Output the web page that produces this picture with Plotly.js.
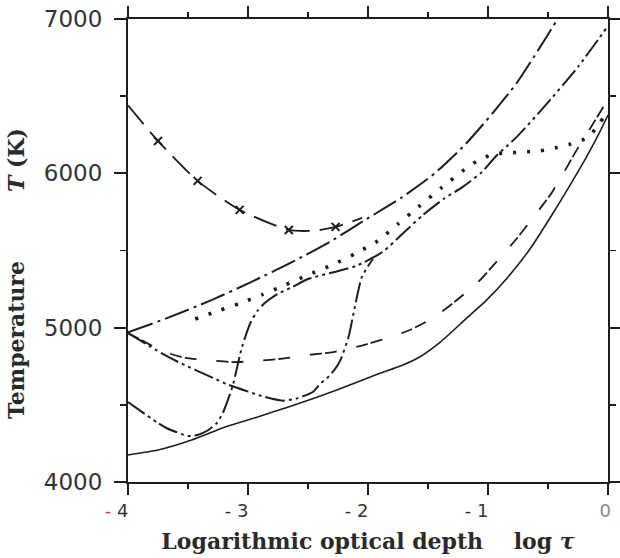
<!DOCTYPE html>
<html>
<head>
<meta charset="utf-8">
<script src="https://cdn.plot.ly/plotly-3.0.1.min.js"></script>
<style>html,body{margin:0;padding:0;background:#fff}#chart{width:620px;height:558px}</style>
</head>
<body>
<div id="chart"></div>
<script>
// Solid curve
var solidX = [-4, -3.75, -3.47, -3.19, -2.92, -2.69, -2.54, -2.26, -1.98, -1.71, -1.57, -1.4, -1.18, -1.01, -0.84, -0.65, -0.46, -0.3, -0.18, -0.07, 0];
var solidT = [4175, 4207, 4272, 4356, 4421, 4480, 4518, 4596, 4681, 4758, 4810, 4905, 5060, 5180, 5322, 5510, 5740, 5945, 6105, 6265, 6378];
// Dashed curve
var dashX = [-4, -3.69, -3.52, -3.34, -3.13, -2.93, -2.71, -2.5, -2.29, -2.07, -1.84, -1.65, -1.46, -1.28, -1.09, -0.93, -0.76, -0.62, -0.47, -0.37, -0.26, -0.13, -0.04, 0];
var dashT = [4965, 4842, 4804, 4790, 4777, 4784, 4800, 4823, 4842, 4880, 4933, 4985, 5063, 5166, 5290, 5426, 5578, 5717, 5873, 6003, 6152, 6314, 6430, 6489];
// Upper dash-dot curve
var dashDotX = [-4, -3.67, -3.3, -2.97, -2.63, -2.32, -2.01, -1.72, -1.44, -1.19, -0.96, -0.76, -0.57, -0.42];
var dashDotT = [4970, 5063, 5180, 5297, 5426, 5555, 5705, 5843, 6003, 6187, 6391, 6586, 6813, 7000];
// Dotted curve
var dotX = [-3.44, -3.25, -3.06, -2.88, -2.69, -2.5, -2.3, -2.11, -1.92, -1.75, -1.58, -1.39, -1.19, -1.09, -0.95, -0.83, -0.7, -0.57, -0.44, -0.31, -0.16, -0.07, 0];
var dotT = [5056, 5108, 5160, 5214, 5277, 5342, 5406, 5478, 5562, 5672, 5782, 5905, 6028, 6080, 6126, 6132, 6139, 6145, 6165, 6190, 6236, 6327, 6400];
// Dash-dot-dot curve starting low at log tau = -4
var lowX = [-4, -3.75, -3.68, -3.5, -3.42, -3.33, -3.26, -3.21, -3.13, -3.05, -2.98, -2.92, -2.86, -2.75, -2.63, -2.5, -2.3, -2.1, -1.88, -1.71, -1.55, -1.37, -1.21, -1.05, -0.94, -0.76, -0.54, -0.25, 0];
var lowT = [4518, 4382, 4350, 4298, 4305, 4337, 4382, 4447, 4616, 4875, 5030, 5110, 5160, 5220, 5264, 5315, 5357, 5400, 5490, 5610, 5725, 5834, 5912, 6009, 6106, 6236, 6424, 6690, 6955];
// Dash-dot-dot curve descending from the V at log tau = -4
var vX = [-4, -3.71, -3.58, -3.29, -3.17, -2.86, -2.71, -2.6, -2.46, -2.4, -2.34, -2.28, -2.23, -2.16, -2.11, -2.05, -1.96];
var vT = [4965, 4830, 4777, 4674, 4632, 4551, 4527, 4540, 4583, 4635, 4674, 4726, 4790, 4946, 5134, 5330, 5445];
// Long-dashed curve with crosses
var crossX = [-4, -3.75, -3.42, -3.07, -2.66, -2.45, -2.27, -2.05];
var crossT = [6440, 6210, 5951, 5763, 5633, 5628, 5653, 5711];
var crossMarkX = [-3.75, -3.42, -3.07, -2.66, -2.27];
var crossMarkT = [6210, 5951, 5763, 5633, 5653];

var xTickVals = [-4, -3, -2, -1, 0];
var xTickText = ['<span style="color:#d0306a">-</span> 4&nbsp;&nbsp;&nbsp;&nbsp;', '- 3&nbsp;&nbsp;&nbsp;&nbsp;', '- 2&nbsp;&nbsp;&nbsp;&nbsp;', '- 1&nbsp;&nbsp;&nbsp;&nbsp;', '<span style="color:#888">0</span>&nbsp;'];
var yTickVals = [4000, 5000, 6000, 7000];

var ink = '#1e1e1e';
function ln(x, y, dash, w) {
  return {x: x, y: y, type: 'scatter', mode: 'lines', hoverinfo: 'skip', showlegend: false,
    line: {color: ink, width: w || 1.8, dash: dash, shape: 'spline', smoothing: 0.6}};
}
var traces = [
  ln(solidX, solidT, 'solid', 1.6),
  ln(dashX, dashT, '12px,3px,12px,20px', 1.8),
  ln(dashDotX, dashDotT, '26px,5px,3px,5px', 2),
  ln(dotX, dotT, '3px,11px', 3.6),
  ln(lowX, lowT, '20px,4px,3px,4px,3px,4px', 2),
  ln(vX, vT, '20px,4px,3px,4px,3px,4px', 2),
  ln(crossX, crossT, '24px,10px', 1.8),
  {x: crossMarkX, y: crossMarkT, type: 'scatter', mode: 'markers', hoverinfo: 'skip', showlegend: false,
   marker: {symbol: 'x-thin', size: 8, line: {color: ink, width: 2}}}
];

var layout = {
  width: 620, height: 558,
  margin: {l: 128, r: 12, t: 19, b: 76},
  paper_bgcolor: '#fff', plot_bgcolor: '#fff',
  showlegend: false,
  xaxis: {
    range: [-4, 0], tickmode: 'array', tickvals: xTickVals, ticktext: xTickText,
    showgrid: false, zeroline: false, showline: true, linecolor: ink, linewidth: 2,
    mirror: 'ticks', ticks: 'outside', ticklen: 11, tickwidth: 2, tickcolor: ink,
    minor: {dtick: 0.5, tick0: -4, ticks: 'outside', ticklen: 5, tickwidth: 1.5, tickcolor: ink, showgrid: false},
    tickfont: {family: 'DejaVu Sans', size: 18, color: '#333'},
    title: {text: 'Logarithmic optical depth&nbsp;&nbsp;&nbsp;&nbsp;log <i>τ</i>', font: {family: 'DejaVu Serif', size: 22, weight: 'bold', color: '#2a2a2a'}, standoff: 14}
  },
  yaxis: {
    range: [4000, 7000], tickmode: 'array', tickvals: yTickVals,
    showgrid: false, zeroline: false, showline: true, linecolor: ink, linewidth: 2,
    mirror: 'ticks', ticks: 'outside', ticklen: 12, tickwidth: 2, tickcolor: ink,
    minor: {dtick: 500, tick0: 4000, ticks: 'outside', ticklen: 6, tickwidth: 1.5, tickcolor: ink, showgrid: false},
    tickfont: {family: 'DejaVu Sans', size: 23, color: '#333'},
    ticklabelstandoff: 7,
    title: {text: 'Temperature&nbsp;&nbsp;&nbsp;&nbsp;&nbsp;&nbsp;&nbsp;&nbsp;&nbsp;<i>T</i> (K)&nbsp;&nbsp;&nbsp;&nbsp;&nbsp;&nbsp;', font: {family: 'DejaVu Serif', size: 22, weight: 'bold', color: '#2a2a2a'}, standoff: 13}
  }
};

Plotly.newPlot('chart', traces, layout, {staticPlot: true, displayModeBar: false});
</script>
</body>
</html>
